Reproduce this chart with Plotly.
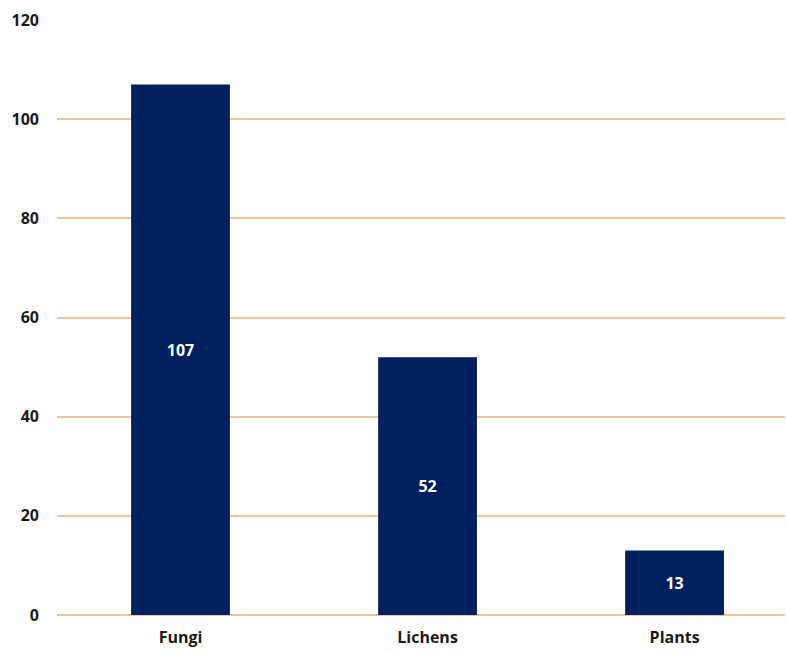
import plotly.graph_objects as go

categories = ["Fungi", "Lichens", "Plants"]
values = [107, 52, 13]
y_ticks = [0, 20, 40, 60, 80, 100, 120]

fig = go.Figure(go.Bar(
    x=list(range(len(categories))),
    y=values,
    width=0.4,
    marker=dict(color="#002060", line=dict(width=0)),
    text=[str(v) for v in values],
    textposition="inside",
    insidetextanchor="middle",
    textangle=0,
    textfont=dict(family="Open Sans", size=16, color="white", weight="bold"),
))

fig.update_layout(
    width=786, height=650,
    margin=dict(l=57, r=1, t=20, b=35, pad=0),
    plot_bgcolor="white", paper_bgcolor="white",
    showlegend=False,
    bargap=0.6,
    uniformtext=dict(minsize=8, mode="show"),
)
fig.update_xaxes(
    range=[-0.5, 2.447],
    tickmode="array",
    tickvals=list(range(len(categories))),
    ticktext=categories,
    showgrid=False, zeroline=False, showline=False, ticks="",
    ticklabelstandoff=11,
    tickfont=dict(family="Open Sans", size=16, color="#1a1a1a", weight="bold"),
)
fig.update_yaxes(
    range=[0, 120],
    tickmode="array",
    tickvals=y_ticks,
    showgrid=True, gridcolor="#F6C09A", gridwidth=1.5,
    zeroline=True, zerolinecolor="#F6C09A", zerolinewidth=1.5,
    showline=False, ticks="",
    ticklabelstandoff=17,
    tickfont=dict(family="Open Sans", size=16, color="#1a1a1a", weight="bold"),
)

fig.write_html("out.html")
